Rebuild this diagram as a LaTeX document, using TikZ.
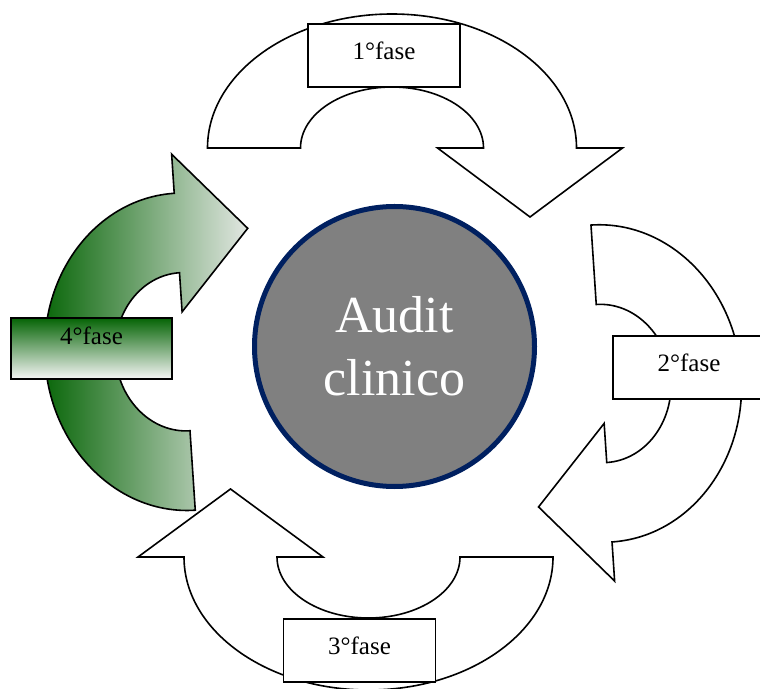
\documentclass[tikz,border=0pt]{standalone}
\usepackage{fontspec}
\setmainfont{Liberation Serif}
\definecolor{auditgray}{RGB}{128,128,128}
\definecolor{auditnavy}{RGB}{0,32,96}
\definecolor{fasegreen}{RGB}{5,100,5}
\definecolor{fasemid}{RGB}{108,140,108}
\definecolor{fasepale}{RGB}{226,231,226}
\definecolor{boxmid}{RGB}{176,186,176}
\definecolor{boxpale}{RGB}{246,246,246}
\tikzstyle{every node}=[font=\fontsize{12.5}{15}\selectfont]
\tikzstyle{fase}=[draw,fill=white,rectangle,line width=0.8pt,inner sep=0pt,minimum width=76pt,minimum height=31.5pt,text depth=5pt]
\tikzstyle{turn}=[draw,fill=white,line width=0.8pt]
% u-turn arrow: outer radii #1,#2, inner radii #3,#4, head half width #5, head depth #6
\newcommand{\uturn}[6]{(-#1,0) arc[start angle=180,end angle=0,x radius=#1,y radius=#2]
    -- ({(#1+#3)/2+#5},0) -- ({(#1+#3)/2},-#6) -- ({(#1+#3)/2-#5},0)
    -- (#3,0) arc[start angle=0,end angle=180,x radius=#3,y radius=#4] -- cycle}

\begin{document}
\begin{tikzpicture}[x=0.5pt,y=0.5pt]
    \useasboundingbox (0,0) rectangle (760,-689);
    \draw[turn, shift={(392,-148)}] \uturn{184.5}{134}{91.5}{61}{92.5}{69};
    \draw[turn, shift={(601.5,-383.5)}, rotate=-86.2] \uturn{158.8}{140}{79.2}{69.5}{79}{71};
    \draw[turn, shift={(368.5,-557)}, rotate=180] \uturn{184.5}{133}{91.5}{61}{92.5}{68};
    \path[turn, left color=fasegreen, middle color=fasemid, right color=fasepale, shift={(184.75,-351.75)}, rotate=93.8] \uturn{158.8}{140}{79.2}{69.5}{79}{71};
    \node[fase] (f1) at (384,-55.5) {1°fase};
    \node[fase] (f2) at (689,-367.5) {2°fase};
    \node[fase] (f3) at (359.5,-650.5) {3°fase};
    \node[fase, minimum width=80.5pt, minimum height=30.5pt, text depth=13pt, top color=fasegreen, middle color=boxmid, bottom color=boxpale] (f4) at (91.5,-348.5) {4°fase};
    \node[circle, draw=auditnavy, line width=2.5pt, fill=auditgray, minimum size=140pt, inner sep=0pt,
        text=white, align=center, font=\fontsize{26}{31.5}\selectfont] (audit) at (394.5,-346.5) {Audit\\clinico};
\end{tikzpicture}
\end{document}
